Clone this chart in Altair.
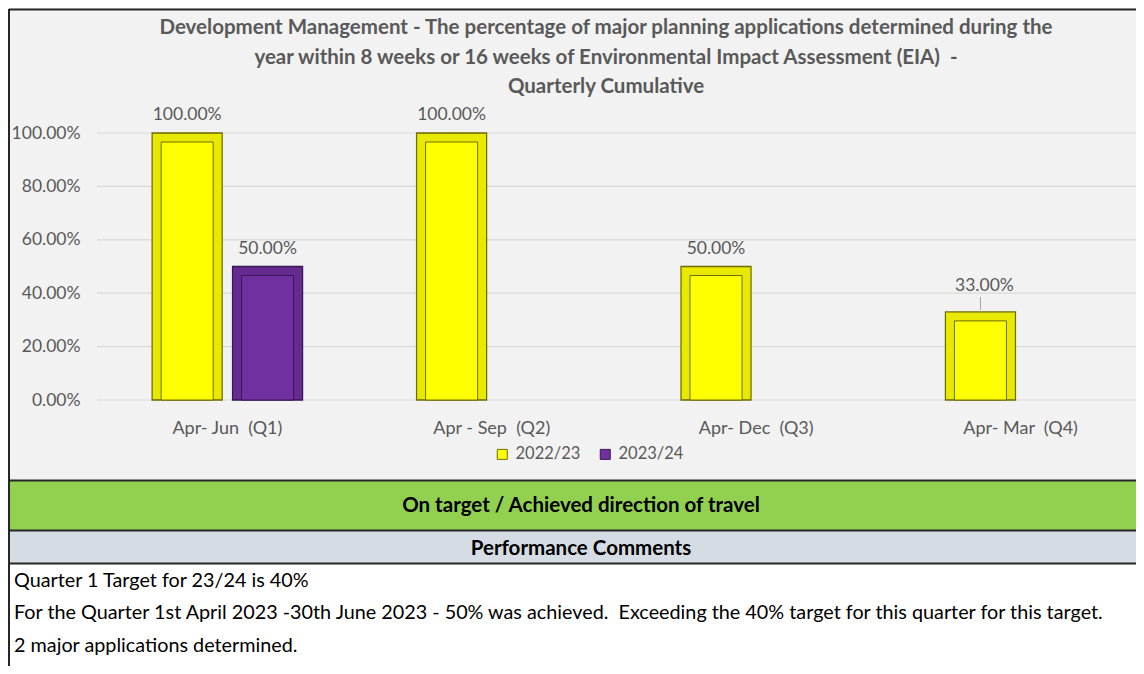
import altair as alt
import pandas as pd

FONT = "Lato"
GREY_TXT = "#595959"

quarters = ["Apr- Jun\u00a0 (Q1)", "Apr - Sep\u00a0 (Q2)", "Apr- Dec\u00a0 (Q3)", "Apr- Mar\u00a0 (Q4)"]
series = ["2022/23", "2023/24"]
values_2022_23 = [1.00, 1.00, 0.50, 0.33]
values_2023_24 = [0.50]  # only Q1 reported so far
series_colors = ["#ffff00", "#7030a0"]
series_strokes = ["#6e6e00", "#3a1656"]
y_ticks = [0.0, 0.2, 0.4, 0.6, 0.8, 1.0]

title_lines = [
    "Development Management - The percentage of major planning applications determined during the",
    "year within 8 weeks or 16 weeks of Environmental Impact Assessment (EIA)\u00a0 -",
    "Quarterly Cumulative",
]
status_text = "On target / Achieved direction of travel"
comments_header = "Performance Comments"
comments = [
    "Quarter 1 Target for 23/24 is 40%",
    "For the Quarter 1st April 2023 -30th June 2023 - 50% was achieved.\u00a0 Exceeding the 40% target for this quarter for this target.",
    "2 major applications determined.",
]

rows = []
for q, v in zip(quarters, values_2022_23):
    rows.append({"quarter": q, "series": series[0], "value": v})
for q, v in zip(quarters, values_2023_24):
    rows.append({"quarter": q, "series": series[1], "value": v})
df = pd.DataFrame(rows)
grid_df = pd.DataFrame({"value": y_ticks})

W, H = 1039, 267

x_enc = alt.X(
    "quarter:N",
    sort=quarters,
    scale=alt.Scale(range=[55, 999], paddingInner=0.43, paddingOuter=0),
    axis=alt.Axis(title=None, labelFontSize=18, labelColor=GREY_TXT, labelFont=FONT,
                  domain=False, ticks=False, labelPadding=19, labelAngle=0, grid=False),
)
xoff = alt.XOffset("series:N", sort=series, scale=alt.Scale(paddingInner=0.125, paddingOuter=0))
y_scale = alt.Scale(domain=[0, 1], nice=False)
y_axis = alt.Axis(title=None, values=y_ticks, format=".2%", labelFontSize=17.5, labelColor=GREY_TXT,
                  labelFont=FONT, domain=False, ticks=False, labelPadding=17, grid=False)
y_enc = alt.Y("value:Q", stack=None, scale=y_scale, axis=y_axis)
color_legend = alt.Legend(
    title=None, orient="none", legendX=397, legendY=313, direction="horizontal",
    symbolType="square", symbolSize=100, symbolStrokeColor="#404040", symbolStrokeWidth=1,
    labelFontSize=16.5, labelColor=GREY_TXT, labelFont=FONT, columnPadding=16, labelOffset=5, padding=0,
)
color_scale = alt.Scale(domain=series, range=series_colors)
stroke_scale = alt.Scale(domain=series, range=series_strokes)

gridlines = alt.Chart(grid_df).mark_rule(color="#d9d9d9", strokeWidth=1.2).encode(
    y=y_enc, x=alt.value(0), x2=alt.value(W))

base = alt.Chart(df)
outer = base.mark_bar(width=70, strokeWidth=1.3).encode(
    x=x_enc, xOffset=xoff, y=y_enc,
    color=alt.Color("series:N", scale=color_scale, legend=color_legend),
    stroke=alt.Stroke("series:N", scale=stroke_scale, legend=None),
)
shade = base.mark_bar(width=68, fill="#000000", fillOpacity=0.09, strokeWidth=0).encode(
    x=x_enc, xOffset=xoff, y=y_enc,
)
inner = base.mark_bar(width=52, yOffset=9, y2Offset=-9, strokeWidth=1).encode(
    x=x_enc, xOffset=xoff, y=y_enc,
    color=alt.Color("series:N", scale=color_scale, legend=None),
    stroke=alt.Stroke("series:N", scale=stroke_scale, legend=None),
)
labels = base.transform_filter(alt.datum.value > 0.4).mark_text(
    dy=-18, fontSize=17.5, color=GREY_TXT, font=FONT, baseline="middle"
).encode(x=x_enc, xOffset=xoff, y=y_enc, text=alt.Text("value:Q", format=".2%"))
labels_low = base.transform_filter(alt.datum.value <= 0.4).mark_text(
    dy=-26, dx=4, fontSize=17.5, color=GREY_TXT, font=FONT, baseline="middle"
).encode(x=x_enc, xOffset=xoff, y=y_enc, text=alt.Text("value:Q", format=".2%"))
leader = base.transform_filter(alt.datum.value <= 0.4).mark_rule(
    color="#a6a6a6", yOffset=-2, y2Offset=-15
).encode(x=x_enc, xOffset=xoff, y=y_enc, y2=alt.Y2("value:Q"))

one = pd.DataFrame({"k": [0]})


def rect(x1, x2, y1, y2, color):
    return alt.Chart(one).mark_rect(color=color).encode(
        x=alt.value(x1), x2=alt.value(x2), y=alt.value(y1), y2=alt.value(y2))


def line(x1, x2, y1, y2, width=2, color="#262626"):
    return alt.Chart(one).mark_rule(color=color, strokeWidth=width).encode(
        x=alt.value(x1), x2=alt.value(x2), y=alt.value(y1), y2=alt.value(y2))


def txt(s, x, y, size, bold=False, align="center", color=GREY_TXT):
    return alt.Chart(one).mark_text(
        text=s, fontSize=size, font=FONT, fontWeight="bold" if bold else "normal",
        align=align, baseline="middle", color=color,
    ).encode(x=alt.value(x), y=alt.value(y))


layers = [
    rect(-87, W, 348, 397, "#92d050"),
    rect(-87, W, 398, 430, "#d6dce4"),
    rect(-87, W, 431, 540, "#ffffff"),
    gridlines,
    outer, shade, inner, labels, labels_low, leader,
    txt(title_lines[0], 509, -105, 20.5, bold=True),
    txt(title_lines[1], 509, -75, 20.5, bold=True),
    txt(title_lines[2], 509, -46, 20.5, bold=True),
    txt(status_text, 484, 373, 20.5, bold=True, color="#000000"),
    txt(comments_header, 484, 416, 20.5, bold=True, color="#000000"),
    txt(comments[0], -83, 448, 19.8, align="left", color="#000000"),
    txt(comments[1], -83, 480, 19.8, align="left", color="#000000"),
    txt(comments[2], -83, 513, 19.8, align="left", color="#000000"),
    line(-88, -88, -124, 540),
    line(-88, W + 2, -123.5, -123.5),
    line(-88, W + 2, 347.5, 347.5),
    line(-88, W + 2, 397.5, 397.5),
    line(-88, W + 2, 430.5, 430.5),
]

chart = alt.layer(*layers).properties(
    width=W, height=H,
    autosize=alt.AutoSizeParams(type="none"),
    padding={"left": 89, "top": 125, "right": 0, "bottom": 266},
    background="#f2f2f2",
).configure_view(stroke=None)

chart.save("out.html", embed_options={"renderer": "svg", "actions": False})
